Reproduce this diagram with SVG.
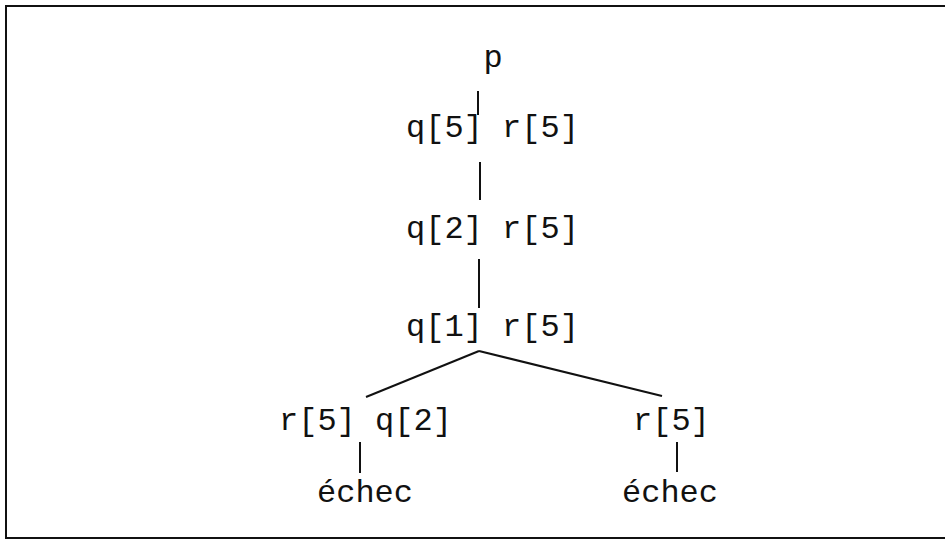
<svg xmlns="http://www.w3.org/2000/svg" width="945" height="539" viewBox="0 0 945 539">
<style>
text{font-family:"Liberation Mono","Courier New",monospace;font-size:32px;fill:#111}
.c{stroke:#111;stroke-width:2;fill:none}
.f{stroke:#111;stroke-width:2;fill:none}
</style>
<rect width="945" height="539" fill="#fff"/>
<path class="f" d="M945,6 H6 V538 H945"/>
<g id="connectors">
<line class="c" x1="478" y1="91" x2="478" y2="115"/>
<line class="c" x1="480" y1="162" x2="480" y2="200"/>
<line class="c" x1="479" y1="259" x2="479" y2="308"/>
<line class="c" x1="479" y1="351" x2="366" y2="397"/>
<line class="c" x1="479" y1="351" x2="662" y2="396"/>
<line class="c" x1="360" y1="442" x2="360" y2="473"/>
<line class="c" x1="677" y1="442" x2="677" y2="472"/>
</g>
<g id="n0"><text x="493" y="67" text-anchor="middle">p</text></g>
<g id="n1"><text x="406" y="137">q[5] r[5]</text></g>
<g id="n2"><text x="406" y="238">q[2] r[5]</text></g>
<g id="n3"><text x="406" y="336">q[1] r[5]</text></g>
<g id="n4"><text x="279" y="430">r[5] q[2]</text></g>
<g id="n5"><text x="633" y="430">r[5]</text></g>
<g id="n6"><text x="317" y="502">échec</text></g>
<g id="n7"><text x="622" y="502">échec</text></g>
</svg>
